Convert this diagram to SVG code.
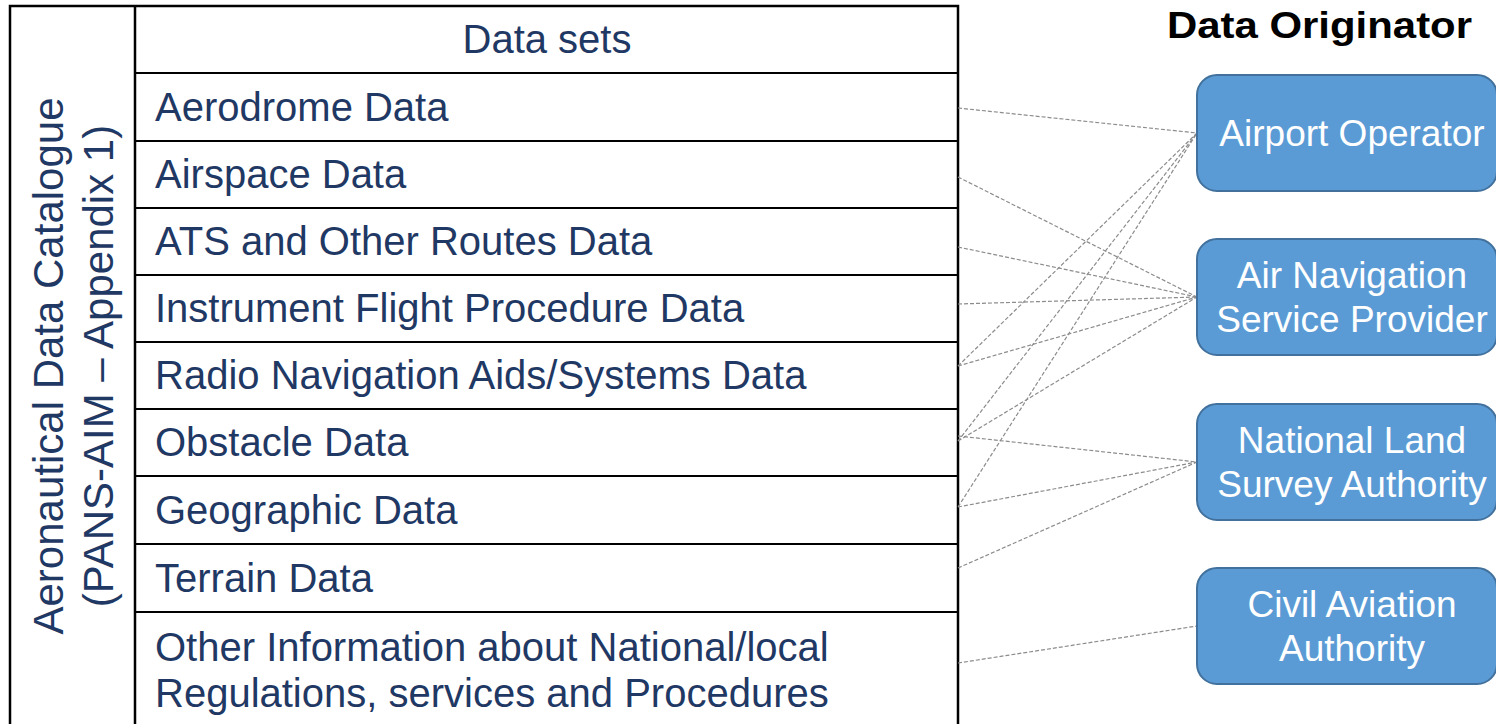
<svg xmlns="http://www.w3.org/2000/svg" width="1496" height="724" viewBox="0 0 1496 724">
  <style>
    .grid { stroke: #000; stroke-width: 2.5; fill: none; }
    .row { stroke: #000; stroke-width: 2.2; }
    .t { font-family: "Liberation Sans", Arial, sans-serif; font-size: 40px; fill: #1F3864; }
    .v { font-family: "Liberation Sans", Arial, sans-serif; font-size: 42px; fill: #1F3864; text-anchor: middle; }
    .box { fill: #5B9BD5; stroke: #41719C; stroke-width: 2; }
    .bt { font-family: "Liberation Sans", Arial, sans-serif; font-size: 37px; fill: #FFFFFF; text-anchor: middle; }
    .title { font-family: "Liberation Sans", Arial, sans-serif; font-size: 37px; font-weight: bold; fill: #000; }
    .conn { stroke: #8C8C8C; stroke-width: 1.2; stroke-dasharray: 4 2; fill: none; }
  </style>
  <rect width="1496" height="724" fill="#FFFFFF"/>

  <g id="table">
    <path class="grid" d="M10,730 V6 H958 V730"/>
    <line class="grid" x1="135" y1="6" x2="135" y2="730"/>
    <line class="row" x1="135" y1="73" x2="958" y2="73"/>
    <line class="row" x1="135" y1="141" x2="958" y2="141"/>
    <line class="row" x1="135" y1="208" x2="958" y2="208"/>
    <line class="row" x1="135" y1="275" x2="958" y2="275"/>
    <line class="row" x1="135" y1="342" x2="958" y2="342"/>
    <line class="row" x1="135" y1="409" x2="958" y2="409"/>
    <line class="row" x1="135" y1="476" x2="958" y2="476"/>
    <line class="row" x1="135" y1="544" x2="958" y2="544"/>
    <line class="row" x1="135" y1="612" x2="958" y2="612"/>
  </g>

  <g id="catalogue-label">
    <text class="v" transform="translate(63,366) rotate(-90)">Aeronautical Data Catalogue</text>
    <text class="v" transform="translate(113,366) rotate(-90)">(PANS-AIM – Appendix 1)</text>
  </g>

  <g id="header"><text class="t" x="547" y="53" text-anchor="middle">Data sets</text></g>
  <g id="row-aerodrome"><text class="t" x="155" y="121">Aerodrome Data</text></g>
  <g id="row-airspace"><text class="t" x="155" y="188">Airspace Data</text></g>
  <g id="row-ats"><text class="t" x="155" y="255">ATS and Other Routes Data</text></g>
  <g id="row-ifp"><text class="t" x="155" y="322">Instrument Flight Procedure Data</text></g>
  <g id="row-radio"><text class="t" x="155" y="389">Radio Navigation Aids/Systems Data</text></g>
  <g id="row-obstacle"><text class="t" x="155" y="456">Obstacle Data</text></g>
  <g id="row-geographic"><text class="t" x="155" y="524">Geographic Data</text></g>
  <g id="row-terrain"><text class="t" x="155" y="592">Terrain Data</text></g>
  <g id="row-other">
    <text class="t" x="155" y="661">Other Information about National/local</text>
    <text class="t" x="155" y="707">Regulations, services and Procedures</text>
  </g>

  <g id="title"><text class="title" x="1167" y="38" textLength="305" lengthAdjust="spacingAndGlyphs">Data Originator</text></g>

  <g id="connectors">
    <line class="conn" x1="958" y1="108" x2="1197" y2="133"/>
    <line class="conn" x1="958" y1="177" x2="1197" y2="297"/>
    <line class="conn" x1="958" y1="247" x2="1197" y2="297"/>
    <line class="conn" x1="958" y1="304" x2="1197" y2="297"/>
    <line class="conn" x1="958" y1="366" x2="1197" y2="297"/>
    <line class="conn" x1="958" y1="366" x2="1197" y2="133"/>
    <line class="conn" x1="958" y1="441" x2="1197" y2="133"/>
    <line class="conn" x1="958" y1="441" x2="1197" y2="297"/>
    <line class="conn" x1="958" y1="436" x2="1197" y2="462"/>
    <line class="conn" x1="958" y1="507" x2="1197" y2="133"/>
    <line class="conn" x1="958" y1="507" x2="1197" y2="462"/>
    <line class="conn" x1="958" y1="568" x2="1197" y2="462"/>
    <line class="conn" x1="958" y1="663" x2="1197" y2="626"/>
  </g>

  <g id="airport-operator">
    <rect class="box" x="1197" y="75" width="300" height="116" rx="20"/>
    <text class="bt" x="1352" y="146">Airport Operator</text>
  </g>
  <g id="ansp">
    <rect class="box" x="1197" y="239" width="300" height="116" rx="20"/>
    <text class="bt" x="1352" y="288">Air Navigation</text>
    <text class="bt" x="1352" y="332">Service Provider</text>
  </g>
  <g id="nlsa">
    <rect class="box" x="1197" y="404" width="300" height="116" rx="20"/>
    <text class="bt" x="1352" y="453">National Land</text>
    <text class="bt" x="1352" y="497">Survey Authority</text>
  </g>
  <g id="caa">
    <rect class="box" x="1197" y="568" width="300" height="116" rx="20"/>
    <text class="bt" x="1352" y="617">Civil Aviation</text>
    <text class="bt" x="1352" y="661">Authority</text>
  </g>
</svg>
